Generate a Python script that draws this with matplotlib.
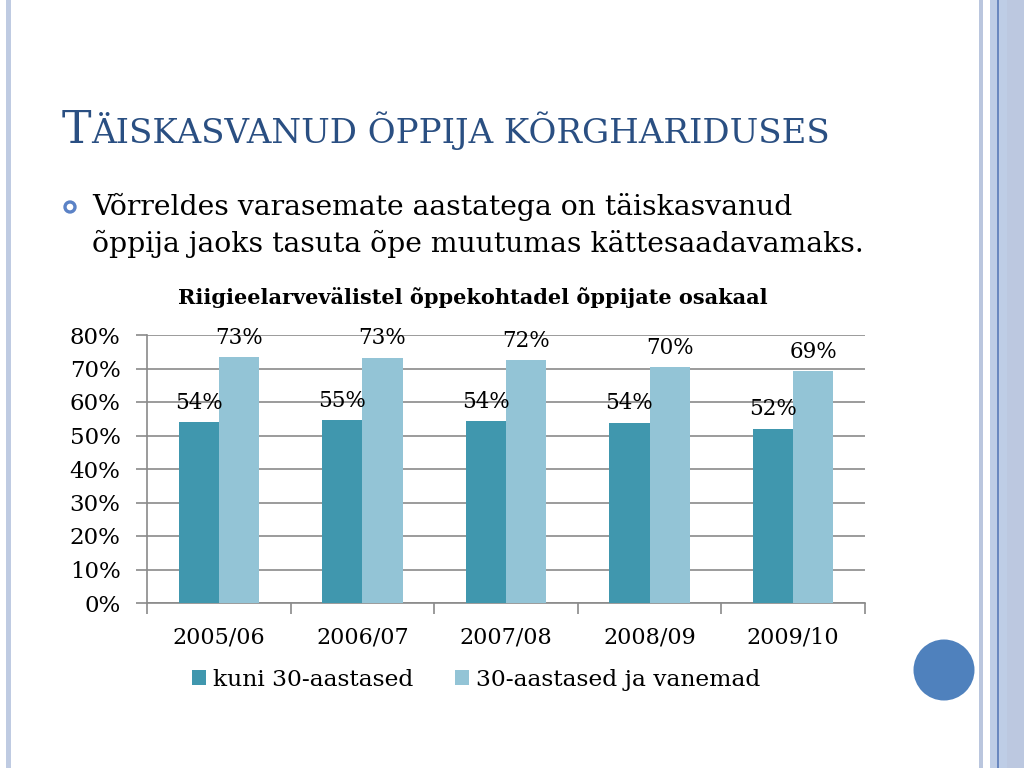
import matplotlib
matplotlib.use("Agg")
import matplotlib.pyplot as plt
from matplotlib.patches import Rectangle, Ellipse
import numpy as np

categories = ["2005/06", "2006/07", "2007/08", "2008/09", "2009/10"]
under30 = [54.0, 54.6, 54.3, 53.8, 52.0]
over30 = [73.4, 73.2, 72.4, 70.4, 69.2]
series_names = ["kuni 30-aastased", "30-aastased ja vanemad"]
yticks = [0, 10, 20, 30, 40, 50, 60, 70, 80]

title_first = "T"
title_rest = "ÄISKASVANUD ÕPPIJA KÕRGHARIDUSES"
bullet_lines = ["Võrreldes varasemate aastatega on täiskasvanud",
                "õppija jaoks tasuta õpe muutumas kättesaadavamaks."]
chart_title = "Riigieelarvevälistel õppekohtadel õppijate osakaal"

SERIF = ["DejaVu Serif"]
DARK = "#4097AE"
LIGHT = "#93C4D6"
GRID = "#8A8A8A"
TITLE_C = "#2A4F82"

fig = plt.figure(figsize=(10.24, 7.68), dpi=100)
fig.patch.set_facecolor("white")
W, H = 1024, 768

def px(x, y):
    return x / W, 1 - y / H

# decorative stripes
def vstripe(x0, x1, color):
    fig.patches.append(Rectangle((x0 / W, 0), (x1 - x0) / W, 1, transform=fig.transFigure,
                                 facecolor=color, edgecolor="none", zorder=0))
vstripe(6, 11, "#BFCBE2")
vstripe(979, 983, "#BAC6DE")
vstripe(990, 1007, "#BECDE6")
vstripe(997, 999, "#6A88BF")
vstripe(1007, 1024, "#BCC8E0")
# circle
fig.patches.append(Ellipse(px(944, 670), 61 / W, 61 / H, transform=fig.transFigure,
                           facecolor="#4F81BD", edgecolor="none", zorder=1))

# title in small caps
renderer = fig.canvas.get_renderer()
x0, yb = px(62, 143)
t1 = fig.text(x0, yb, title_first, fontsize=32, family=SERIF, color=TITLE_C, va="baseline")
bb = t1.get_window_extent(renderer)
fig.text((bb.x1) / W, yb, title_rest, fontsize=24.5, family=SERIF, color=TITLE_C, va="baseline")

# bullet
fig.patches.append(Ellipse(px(70, 207), 10 / W, 10 / H, transform=fig.transFigure,
                           facecolor="none", edgecolor="#5B82C6", linewidth=2.4, zorder=2))
for i, line in enumerate(bullet_lines):
    fig.text(*px(92, 215 + i * 37), line, fontsize=20.3, family=SERIF, color="black", va="baseline")

# chart
ax = fig.add_axes([147 / W, 1 - 603 / H, (865 - 147) / W, (603 - 335) / H])
x = np.arange(len(categories))
bw = 0.28
b1 = ax.bar(x - bw / 2, under30, bw, color=DARK, zorder=3, label=series_names[0])
b2 = ax.bar(x + bw / 2, over30, bw, color=LIGHT, zorder=3, label=series_names[1])
for bars, vals in ((b1, under30), (b2, over30)):
    for rect, v in zip(bars, vals):
        ax.annotate(f"{round(v):d}%", (rect.get_x() + rect.get_width() / 2, v),
                    xytext=(0, 14), textcoords="offset points", ha="center", va="center",
                    fontsize=15.5, family=SERIF, zorder=4)

ax.set_xlim(-0.5, len(categories) - 0.5)
ax.set_ylim(0, 80)
ax.set_yticks(yticks)
ax.set_yticklabels([f"{t}%" for t in yticks], fontsize=16.5, family=SERIF)
ax.yaxis.grid(True, color=GRID, linewidth=1.2, zorder=0)
ax.set_axisbelow(True)
ax.set_xticks(x)
ax.set_xticklabels(categories, fontsize=16, family=SERIF)
ax.set_xticks(np.arange(len(categories) + 1) - 0.5, minor=True)
ax.tick_params(axis="x", which="major", length=0, pad=17)
ax.tick_params(axis="x", which="minor", length=8, color=GRID, width=1.2)
ax.tick_params(axis="y", length=8, color=GRID, width=1.2, pad=11)
for s in ["top", "right"]:
    ax.spines[s].set_visible(False)
for s in ["left", "bottom"]:
    ax.spines[s].set_color(GRID)
    ax.spines[s].set_linewidth(1.2)

fig.text(*px(473, 298), chart_title, fontsize=15, family=SERIF, fontweight="bold",
         ha="center", va="center")

fig.legend(handles=[b1, b2], labels=series_names, loc="center",
           bbox_to_anchor=px(476, 680), ncol=2, frameon=False,
           prop={"family": SERIF, "size": 16.8}, handlelength=0.6, handleheight=0.6,
           handletextpad=0.3, columnspacing=1.8)

fig.savefig("out.png", dpi=100)
